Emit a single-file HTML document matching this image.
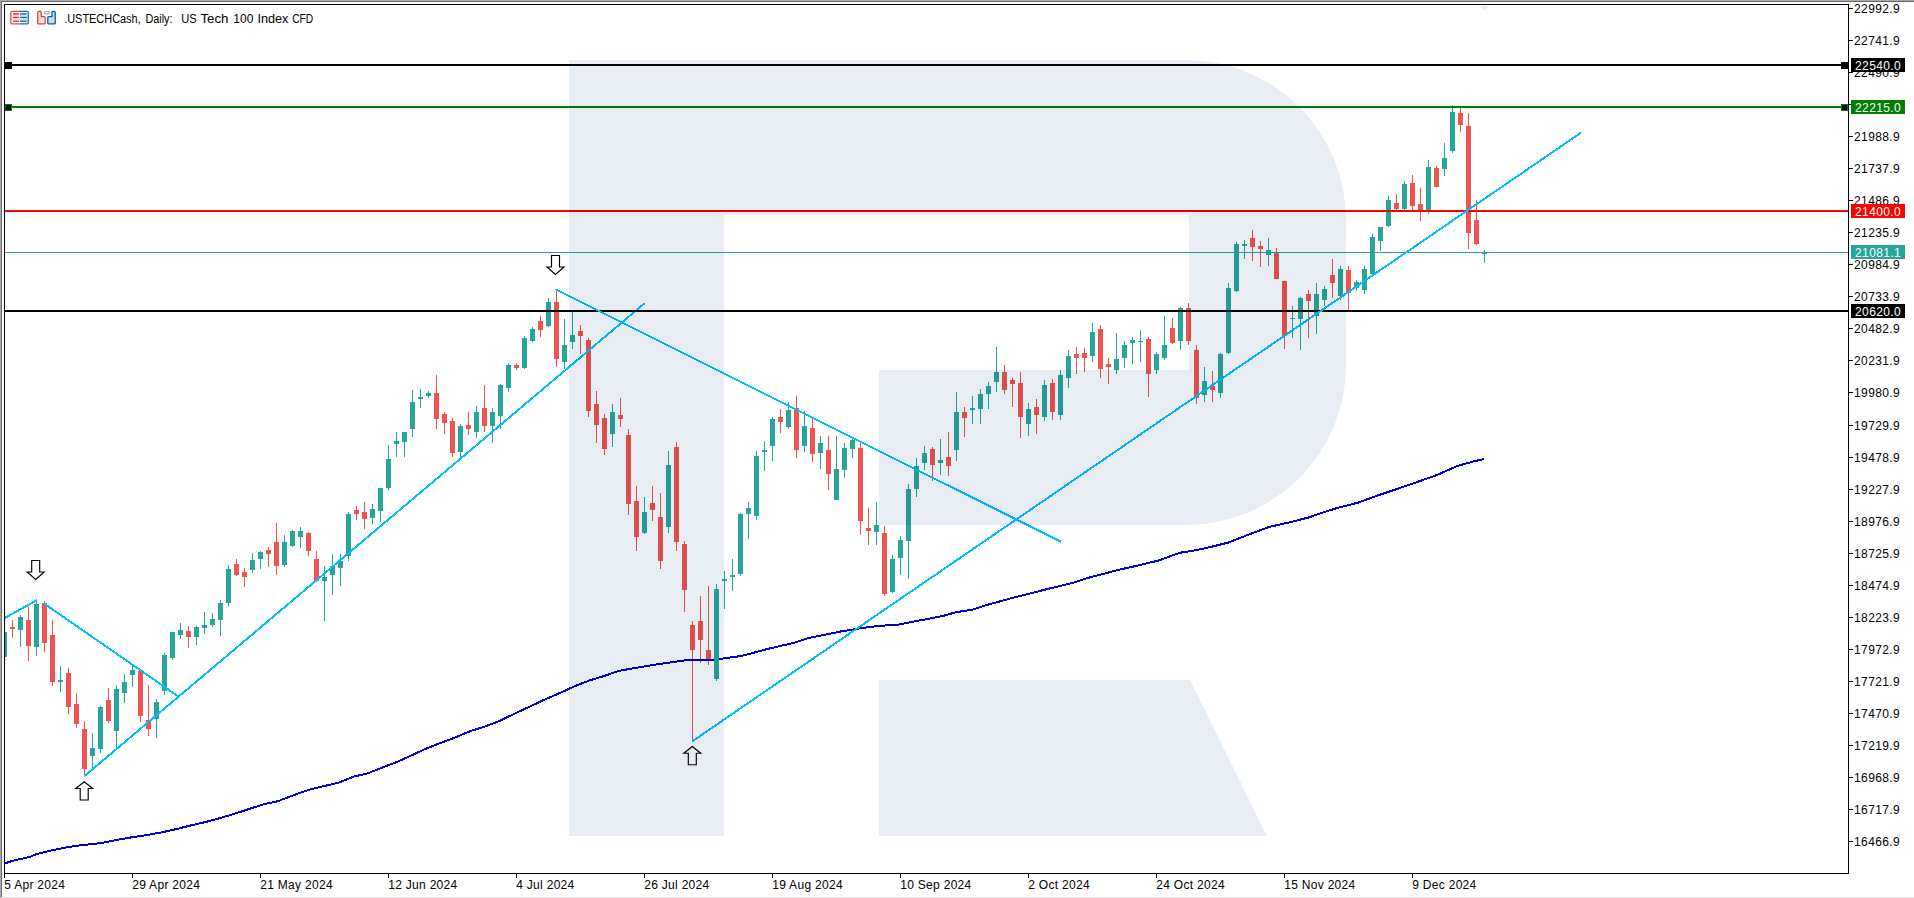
<!DOCTYPE html>
<html><head><meta charset="utf-8"><style>
html,body{margin:0;padding:0;background:#fff;width:1914px;height:898px;overflow:hidden;position:relative}
.pl{position:absolute;left:1854px;height:14px;line-height:14px;font-size:12px;letter-spacing:0.4px;color:#000;font-family:"Liberation Sans",sans-serif;white-space:nowrap}
.pb{position:absolute;left:1851px;width:54px;height:14px;line-height:14px;font-size:12px;letter-spacing:0.4px;color:#fff;font-family:"Liberation Sans",sans-serif;white-space:nowrap}
.pb span{position:absolute;left:4px;top:1px}
.dl{position:absolute;top:878px;height:14px;line-height:14px;font-size:12px;letter-spacing:0.3px;color:#000;font-family:"Liberation Sans",sans-serif;white-space:nowrap}
.hd{position:absolute;left:64px;top:11px;height:14px;line-height:14px;font-size:12px;color:#000;font-family:"Liberation Sans",sans-serif;white-space:nowrap}
</style></head><body>
<svg width="1914" height="898" viewBox="0 0 1914 898" style="position:absolute;left:0;top:0"><rect x="0" y="0" width="1914" height="898" fill="#fff"/><g shape-rendering="crispEdges"><rect x="0" y="0" width="1914" height="1" fill="#a9a9a9"/><rect x="1" y="1" width="1913" height="1" fill="#696969"/><rect x="0" y="0" width="1" height="898" fill="#a9a9a9"/><rect x="1" y="1" width="1" height="896" fill="#696969"/><rect x="1" y="897" width="1913" height="1" fill="#e0e0e0"/></g><defs><clipPath id="cl"><rect x="5" y="5" width="1843" height="868"/></clipPath></defs><g clip-path="url(#cl)"><g shape-rendering="crispEdges"><rect x="4" y="628" width="1" height="32" fill="#26a69a"/><rect x="2" y="632" width="5" height="25" fill="#26a69a"/><rect x="12" y="620" width="1" height="18" fill="#ef5350"/><rect x="10" y="627" width="5" height="2" fill="#ef5350"/><rect x="20" y="615" width="1" height="32" fill="#26a69a"/><rect x="18" y="617" width="5" height="13" fill="#26a69a"/><rect x="28" y="607" width="1" height="54" fill="#ef5350"/><rect x="26" y="620" width="5" height="26" fill="#ef5350"/><rect x="36" y="600" width="1" height="56" fill="#26a69a"/><rect x="34" y="604" width="5" height="43" fill="#26a69a"/><rect x="44" y="601" width="1" height="51" fill="#ef5350"/><rect x="42" y="603" width="5" height="40" fill="#ef5350"/><rect x="52" y="620" width="1" height="66" fill="#ef5350"/><rect x="50" y="635" width="5" height="47" fill="#ef5350"/><rect x="60" y="666" width="1" height="26" fill="#26a69a"/><rect x="58" y="680" width="5" height="2" fill="#26a69a"/><rect x="68" y="668" width="1" height="46" fill="#ef5350"/><rect x="66" y="673" width="5" height="34" fill="#ef5350"/><rect x="76" y="693" width="1" height="35" fill="#ef5350"/><rect x="74" y="704" width="5" height="20" fill="#ef5350"/><rect x="84" y="721" width="1" height="55" fill="#ef5350"/><rect x="82" y="729" width="5" height="40" fill="#ef5350"/><rect x="92" y="733" width="1" height="35" fill="#26a69a"/><rect x="90" y="748" width="5" height="8" fill="#26a69a"/><rect x="100" y="706" width="1" height="47" fill="#26a69a"/><rect x="98" y="707" width="5" height="42" fill="#26a69a"/><rect x="108" y="688" width="1" height="35" fill="#ef5350"/><rect x="106" y="700" width="5" height="21" fill="#ef5350"/><rect x="116" y="685" width="1" height="63" fill="#26a69a"/><rect x="114" y="689" width="5" height="42" fill="#26a69a"/><rect x="124" y="674" width="1" height="29" fill="#26a69a"/><rect x="122" y="682" width="5" height="11" fill="#26a69a"/><rect x="132" y="665" width="1" height="22" fill="#26a69a"/><rect x="130" y="670" width="5" height="5" fill="#26a69a"/><rect x="140" y="671" width="1" height="51" fill="#ef5350"/><rect x="138" y="671" width="5" height="45" fill="#ef5350"/><rect x="148" y="685" width="1" height="51" fill="#ef5350"/><rect x="146" y="720" width="5" height="9" fill="#ef5350"/><rect x="156" y="699" width="1" height="39" fill="#26a69a"/><rect x="154" y="702" width="5" height="17" fill="#26a69a"/><rect x="164" y="653" width="1" height="42" fill="#26a69a"/><rect x="162" y="655" width="5" height="36" fill="#26a69a"/><rect x="172" y="632" width="1" height="28" fill="#26a69a"/><rect x="170" y="632" width="5" height="26" fill="#26a69a"/><rect x="180" y="623" width="1" height="16" fill="#26a69a"/><rect x="178" y="630" width="5" height="5" fill="#26a69a"/><rect x="188" y="626" width="1" height="22" fill="#ef5350"/><rect x="186" y="631" width="5" height="6" fill="#ef5350"/><rect x="196" y="626" width="1" height="19" fill="#26a69a"/><rect x="194" y="627" width="5" height="10" fill="#26a69a"/><rect x="204" y="612" width="1" height="22" fill="#26a69a"/><rect x="202" y="625" width="5" height="3" fill="#26a69a"/><rect x="212" y="613" width="1" height="14" fill="#26a69a"/><rect x="210" y="619" width="5" height="6" fill="#26a69a"/><rect x="220" y="600" width="1" height="36" fill="#26a69a"/><rect x="218" y="603" width="5" height="17" fill="#26a69a"/><rect x="228" y="565" width="1" height="41" fill="#26a69a"/><rect x="226" y="569" width="5" height="34" fill="#26a69a"/><rect x="236" y="559" width="1" height="17" fill="#ef5350"/><rect x="234" y="564" width="5" height="11" fill="#ef5350"/><rect x="244" y="568" width="1" height="19" fill="#ef5350"/><rect x="242" y="572" width="5" height="5" fill="#ef5350"/><rect x="252" y="553" width="1" height="20" fill="#26a69a"/><rect x="250" y="560" width="5" height="10" fill="#26a69a"/><rect x="260" y="551" width="1" height="18" fill="#26a69a"/><rect x="258" y="552" width="5" height="7" fill="#26a69a"/><rect x="268" y="547" width="1" height="20" fill="#ef5350"/><rect x="266" y="550" width="5" height="4" fill="#ef5350"/><rect x="276" y="523" width="1" height="52" fill="#ef5350"/><rect x="274" y="542" width="5" height="24" fill="#ef5350"/><rect x="284" y="535" width="1" height="32" fill="#26a69a"/><rect x="282" y="542" width="5" height="23" fill="#26a69a"/><rect x="292" y="530" width="1" height="17" fill="#26a69a"/><rect x="290" y="531" width="5" height="15" fill="#26a69a"/><rect x="300" y="527" width="1" height="21" fill="#26a69a"/><rect x="298" y="531" width="5" height="6" fill="#26a69a"/><rect x="308" y="532" width="1" height="24" fill="#ef5350"/><rect x="306" y="533" width="5" height="18" fill="#ef5350"/><rect x="316" y="551" width="1" height="31" fill="#ef5350"/><rect x="314" y="559" width="5" height="22" fill="#ef5350"/><rect x="324" y="566" width="1" height="55" fill="#26a69a"/><rect x="322" y="577" width="5" height="4" fill="#26a69a"/><rect x="332" y="554" width="1" height="41" fill="#26a69a"/><rect x="330" y="566" width="5" height="9" fill="#26a69a"/><rect x="340" y="554" width="1" height="32" fill="#26a69a"/><rect x="338" y="561" width="5" height="7" fill="#26a69a"/><rect x="348" y="512" width="1" height="49" fill="#26a69a"/><rect x="346" y="514" width="5" height="42" fill="#26a69a"/><rect x="356" y="506" width="1" height="14" fill="#ef5350"/><rect x="354" y="510" width="5" height="4" fill="#ef5350"/><rect x="364" y="502" width="1" height="27" fill="#ef5350"/><rect x="362" y="512" width="5" height="7" fill="#ef5350"/><rect x="372" y="504" width="1" height="20" fill="#26a69a"/><rect x="370" y="509" width="5" height="9" fill="#26a69a"/><rect x="380" y="488" width="1" height="34" fill="#26a69a"/><rect x="378" y="488" width="5" height="23" fill="#26a69a"/><rect x="388" y="445" width="1" height="45" fill="#26a69a"/><rect x="386" y="459" width="5" height="29" fill="#26a69a"/><rect x="396" y="432" width="1" height="25" fill="#26a69a"/><rect x="394" y="441" width="5" height="3" fill="#26a69a"/><rect x="404" y="432" width="1" height="25" fill="#26a69a"/><rect x="402" y="432" width="5" height="10" fill="#26a69a"/><rect x="412" y="390" width="1" height="47" fill="#26a69a"/><rect x="410" y="402" width="5" height="27" fill="#26a69a"/><rect x="420" y="389" width="1" height="19" fill="#26a69a"/><rect x="418" y="397" width="5" height="2" fill="#26a69a"/><rect x="428" y="391" width="1" height="7" fill="#26a69a"/><rect x="426" y="393" width="5" height="3" fill="#26a69a"/><rect x="436" y="375" width="1" height="54" fill="#ef5350"/><rect x="434" y="393" width="5" height="26" fill="#ef5350"/><rect x="444" y="412" width="1" height="22" fill="#ef5350"/><rect x="442" y="414" width="5" height="9" fill="#ef5350"/><rect x="452" y="418" width="1" height="39" fill="#ef5350"/><rect x="450" y="421" width="5" height="32" fill="#ef5350"/><rect x="460" y="424" width="1" height="34" fill="#26a69a"/><rect x="458" y="426" width="5" height="26" fill="#26a69a"/><rect x="468" y="412" width="1" height="23" fill="#ef5350"/><rect x="466" y="425" width="5" height="4" fill="#ef5350"/><rect x="476" y="406" width="1" height="32" fill="#26a69a"/><rect x="474" y="412" width="5" height="20" fill="#26a69a"/><rect x="484" y="385" width="1" height="47" fill="#ef5350"/><rect x="482" y="408" width="5" height="18" fill="#ef5350"/><rect x="492" y="408" width="1" height="35" fill="#26a69a"/><rect x="490" y="412" width="5" height="14" fill="#26a69a"/><rect x="500" y="384" width="1" height="45" fill="#26a69a"/><rect x="498" y="385" width="5" height="31" fill="#26a69a"/><rect x="508" y="363" width="1" height="29" fill="#26a69a"/><rect x="506" y="365" width="5" height="23" fill="#26a69a"/><rect x="516" y="363" width="1" height="7" fill="#ef5350"/><rect x="514" y="365" width="5" height="3" fill="#ef5350"/><rect x="524" y="336" width="1" height="33" fill="#26a69a"/><rect x="522" y="338" width="5" height="30" fill="#26a69a"/><rect x="532" y="327" width="1" height="15" fill="#26a69a"/><rect x="530" y="329" width="5" height="12" fill="#26a69a"/><rect x="540" y="316" width="1" height="21" fill="#ef5350"/><rect x="538" y="321" width="5" height="9" fill="#ef5350"/><rect x="548" y="298" width="1" height="29" fill="#26a69a"/><rect x="546" y="302" width="5" height="24" fill="#26a69a"/><rect x="556" y="290" width="1" height="77" fill="#ef5350"/><rect x="554" y="302" width="5" height="57" fill="#ef5350"/><rect x="564" y="319" width="1" height="50" fill="#26a69a"/><rect x="562" y="345" width="5" height="17" fill="#26a69a"/><rect x="572" y="311" width="1" height="38" fill="#26a69a"/><rect x="570" y="335" width="5" height="7" fill="#26a69a"/><rect x="580" y="325" width="1" height="29" fill="#ef5350"/><rect x="578" y="331" width="5" height="5" fill="#ef5350"/><rect x="588" y="338" width="1" height="79" fill="#ef5350"/><rect x="586" y="340" width="5" height="71" fill="#ef5350"/><rect x="596" y="391" width="1" height="52" fill="#ef5350"/><rect x="594" y="404" width="5" height="21" fill="#ef5350"/><rect x="604" y="414" width="1" height="41" fill="#ef5350"/><rect x="602" y="418" width="5" height="31" fill="#ef5350"/><rect x="612" y="404" width="1" height="43" fill="#26a69a"/><rect x="610" y="412" width="5" height="22" fill="#26a69a"/><rect x="620" y="398" width="1" height="29" fill="#ef5350"/><rect x="618" y="415" width="5" height="4" fill="#ef5350"/><rect x="628" y="429" width="1" height="86" fill="#ef5350"/><rect x="626" y="435" width="5" height="69" fill="#ef5350"/><rect x="636" y="486" width="1" height="65" fill="#ef5350"/><rect x="634" y="501" width="5" height="36" fill="#ef5350"/><rect x="644" y="497" width="1" height="37" fill="#26a69a"/><rect x="642" y="512" width="5" height="21" fill="#26a69a"/><rect x="652" y="486" width="1" height="35" fill="#ef5350"/><rect x="650" y="503" width="5" height="7" fill="#ef5350"/><rect x="660" y="493" width="1" height="76" fill="#ef5350"/><rect x="658" y="517" width="5" height="44" fill="#ef5350"/><rect x="668" y="451" width="1" height="82" fill="#26a69a"/><rect x="666" y="465" width="5" height="62" fill="#26a69a"/><rect x="676" y="442" width="1" height="109" fill="#ef5350"/><rect x="674" y="447" width="5" height="95" fill="#ef5350"/><rect x="684" y="541" width="1" height="71" fill="#ef5350"/><rect x="682" y="544" width="5" height="46" fill="#ef5350"/><rect x="692" y="621" width="1" height="120" fill="#ef5350"/><rect x="690" y="625" width="5" height="25" fill="#ef5350"/><rect x="700" y="596" width="1" height="67" fill="#ef5350"/><rect x="698" y="621" width="5" height="19" fill="#ef5350"/><rect x="708" y="586" width="1" height="79" fill="#ef5350"/><rect x="706" y="650" width="5" height="10" fill="#ef5350"/><rect x="724" y="571" width="1" height="38" fill="#26a69a"/><rect x="722" y="579" width="5" height="2" fill="#26a69a"/><rect x="732" y="559" width="1" height="32" fill="#26a69a"/><rect x="730" y="575" width="5" height="2" fill="#26a69a"/><rect x="740" y="513" width="1" height="63" fill="#26a69a"/><rect x="738" y="514" width="5" height="60" fill="#26a69a"/><rect x="748" y="502" width="1" height="37" fill="#26a69a"/><rect x="746" y="508" width="5" height="6" fill="#26a69a"/><rect x="756" y="451" width="1" height="69" fill="#26a69a"/><rect x="754" y="456" width="5" height="60" fill="#26a69a"/><rect x="764" y="441" width="1" height="30" fill="#26a69a"/><rect x="762" y="450" width="5" height="2" fill="#26a69a"/><rect x="772" y="417" width="1" height="44" fill="#26a69a"/><rect x="770" y="419" width="5" height="27" fill="#26a69a"/><rect x="780" y="409" width="1" height="24" fill="#ef5350"/><rect x="778" y="417" width="5" height="5" fill="#ef5350"/><rect x="788" y="402" width="1" height="27" fill="#26a69a"/><rect x="786" y="410" width="5" height="17" fill="#26a69a"/><rect x="796" y="396" width="1" height="62" fill="#ef5350"/><rect x="794" y="408" width="5" height="42" fill="#ef5350"/><rect x="804" y="411" width="1" height="41" fill="#26a69a"/><rect x="802" y="426" width="5" height="20" fill="#26a69a"/><rect x="812" y="419" width="1" height="43" fill="#ef5350"/><rect x="810" y="428" width="5" height="26" fill="#ef5350"/><rect x="820" y="436" width="1" height="33" fill="#26a69a"/><rect x="818" y="443" width="5" height="10" fill="#26a69a"/><rect x="828" y="436" width="1" height="54" fill="#ef5350"/><rect x="826" y="450" width="5" height="24" fill="#ef5350"/><rect x="836" y="436" width="1" height="64" fill="#26a69a"/><rect x="834" y="469" width="5" height="31" fill="#26a69a"/><rect x="844" y="443" width="1" height="35" fill="#26a69a"/><rect x="842" y="448" width="5" height="22" fill="#26a69a"/><rect x="852" y="437" width="1" height="21" fill="#26a69a"/><rect x="850" y="440" width="5" height="9" fill="#26a69a"/><rect x="860" y="442" width="1" height="93" fill="#ef5350"/><rect x="858" y="448" width="5" height="73" fill="#ef5350"/><rect x="868" y="508" width="1" height="37" fill="#ef5350"/><rect x="866" y="528" width="5" height="3" fill="#ef5350"/><rect x="876" y="502" width="1" height="43" fill="#26a69a"/><rect x="874" y="525" width="5" height="7" fill="#26a69a"/><rect x="884" y="526" width="1" height="70" fill="#ef5350"/><rect x="882" y="533" width="5" height="61" fill="#ef5350"/><rect x="892" y="555" width="1" height="38" fill="#26a69a"/><rect x="890" y="559" width="5" height="33" fill="#26a69a"/><rect x="900" y="536" width="1" height="39" fill="#26a69a"/><rect x="898" y="540" width="5" height="18" fill="#26a69a"/><rect x="908" y="484" width="1" height="95" fill="#26a69a"/><rect x="906" y="489" width="5" height="52" fill="#26a69a"/><rect x="916" y="458" width="1" height="39" fill="#26a69a"/><rect x="914" y="466" width="5" height="23" fill="#26a69a"/><rect x="924" y="446" width="1" height="24" fill="#26a69a"/><rect x="922" y="453" width="5" height="10" fill="#26a69a"/><rect x="932" y="447" width="1" height="34" fill="#ef5350"/><rect x="930" y="449" width="5" height="16" fill="#ef5350"/><rect x="940" y="439" width="1" height="36" fill="#26a69a"/><rect x="938" y="460" width="5" height="3" fill="#26a69a"/><rect x="948" y="432" width="1" height="44" fill="#ef5350"/><rect x="946" y="457" width="5" height="9" fill="#ef5350"/><rect x="956" y="392" width="1" height="69" fill="#26a69a"/><rect x="954" y="412" width="5" height="38" fill="#26a69a"/><rect x="964" y="407" width="1" height="30" fill="#ef5350"/><rect x="962" y="412" width="5" height="6" fill="#ef5350"/><rect x="972" y="396" width="1" height="28" fill="#26a69a"/><rect x="970" y="408" width="5" height="2" fill="#26a69a"/><rect x="980" y="389" width="1" height="35" fill="#26a69a"/><rect x="978" y="394" width="5" height="15" fill="#26a69a"/><rect x="988" y="382" width="1" height="27" fill="#26a69a"/><rect x="986" y="386" width="5" height="8" fill="#26a69a"/><rect x="996" y="347" width="1" height="45" fill="#26a69a"/><rect x="994" y="372" width="5" height="10" fill="#26a69a"/><rect x="1004" y="365" width="1" height="29" fill="#ef5350"/><rect x="1002" y="372" width="5" height="18" fill="#ef5350"/><rect x="1012" y="378" width="1" height="29" fill="#ef5350"/><rect x="1010" y="380" width="5" height="4" fill="#ef5350"/><rect x="1020" y="372" width="1" height="66" fill="#ef5350"/><rect x="1018" y="383" width="5" height="34" fill="#ef5350"/><rect x="1028" y="403" width="1" height="33" fill="#26a69a"/><rect x="1026" y="409" width="5" height="15" fill="#26a69a"/><rect x="1036" y="399" width="1" height="35" fill="#ef5350"/><rect x="1034" y="407" width="5" height="8" fill="#ef5350"/><rect x="1044" y="380" width="1" height="41" fill="#26a69a"/><rect x="1042" y="385" width="5" height="32" fill="#26a69a"/><rect x="1052" y="379" width="1" height="41" fill="#ef5350"/><rect x="1050" y="383" width="5" height="29" fill="#ef5350"/><rect x="1060" y="370" width="1" height="50" fill="#26a69a"/><rect x="1058" y="375" width="5" height="40" fill="#26a69a"/><rect x="1068" y="350" width="1" height="38" fill="#26a69a"/><rect x="1066" y="356" width="5" height="22" fill="#26a69a"/><rect x="1076" y="347" width="1" height="27" fill="#ef5350"/><rect x="1074" y="354" width="5" height="4" fill="#ef5350"/><rect x="1084" y="348" width="1" height="24" fill="#ef5350"/><rect x="1082" y="353" width="5" height="5" fill="#ef5350"/><rect x="1092" y="323" width="1" height="39" fill="#26a69a"/><rect x="1090" y="332" width="5" height="24" fill="#26a69a"/><rect x="1100" y="325" width="1" height="53" fill="#ef5350"/><rect x="1098" y="329" width="5" height="40" fill="#ef5350"/><rect x="1108" y="358" width="1" height="26" fill="#ef5350"/><rect x="1106" y="364" width="5" height="3" fill="#ef5350"/><rect x="1116" y="333" width="1" height="41" fill="#26a69a"/><rect x="1114" y="359" width="5" height="11" fill="#26a69a"/><rect x="1124" y="341" width="1" height="27" fill="#26a69a"/><rect x="1122" y="345" width="5" height="13" fill="#26a69a"/><rect x="1132" y="337" width="1" height="27" fill="#26a69a"/><rect x="1130" y="340" width="5" height="3" fill="#26a69a"/><rect x="1140" y="330" width="1" height="32" fill="#26a69a"/><rect x="1138" y="341" width="5" height="1" fill="#26a69a"/><rect x="1148" y="337" width="1" height="60" fill="#ef5350"/><rect x="1146" y="339" width="5" height="35" fill="#ef5350"/><rect x="1156" y="352" width="1" height="22" fill="#26a69a"/><rect x="1154" y="354" width="5" height="16" fill="#26a69a"/><rect x="1164" y="316" width="1" height="44" fill="#26a69a"/><rect x="1162" y="345" width="5" height="13" fill="#26a69a"/><rect x="1172" y="318" width="1" height="26" fill="#ef5350"/><rect x="1170" y="328" width="5" height="15" fill="#ef5350"/><rect x="1180" y="307" width="1" height="43" fill="#26a69a"/><rect x="1178" y="308" width="5" height="33" fill="#26a69a"/><rect x="1188" y="303" width="1" height="42" fill="#ef5350"/><rect x="1186" y="308" width="5" height="33" fill="#ef5350"/><rect x="1196" y="345" width="1" height="59" fill="#ef5350"/><rect x="1194" y="350" width="5" height="48" fill="#ef5350"/><rect x="1204" y="367" width="1" height="35" fill="#26a69a"/><rect x="1202" y="381" width="5" height="14" fill="#26a69a"/><rect x="1212" y="371" width="1" height="31" fill="#ef5350"/><rect x="1210" y="386" width="5" height="4" fill="#ef5350"/><rect x="1220" y="353" width="1" height="45" fill="#26a69a"/><rect x="1218" y="354" width="5" height="39" fill="#26a69a"/><rect x="1228" y="283" width="1" height="71" fill="#26a69a"/><rect x="1226" y="288" width="5" height="65" fill="#26a69a"/><rect x="1236" y="242" width="1" height="50" fill="#26a69a"/><rect x="1234" y="244" width="5" height="47" fill="#26a69a"/><rect x="1244" y="240" width="1" height="19" fill="#26a69a"/><rect x="1242" y="244" width="5" height="2" fill="#26a69a"/><rect x="1252" y="230" width="1" height="31" fill="#ef5350"/><rect x="1250" y="238" width="5" height="9" fill="#ef5350"/><rect x="1260" y="241" width="1" height="26" fill="#ef5350"/><rect x="1258" y="246" width="5" height="3" fill="#ef5350"/><rect x="1268" y="238" width="1" height="28" fill="#26a69a"/><rect x="1266" y="250" width="5" height="5" fill="#26a69a"/><rect x="1276" y="248" width="1" height="31" fill="#ef5350"/><rect x="1274" y="253" width="5" height="26" fill="#ef5350"/><rect x="1284" y="281" width="1" height="68" fill="#ef5350"/><rect x="1282" y="281" width="5" height="55" fill="#ef5350"/><rect x="1292" y="306" width="1" height="32" fill="#26a69a"/><rect x="1290" y="318" width="5" height="1" fill="#26a69a"/><rect x="1300" y="297" width="1" height="53" fill="#26a69a"/><rect x="1298" y="298" width="5" height="21" fill="#26a69a"/><rect x="1308" y="290" width="1" height="48" fill="#ef5350"/><rect x="1306" y="294" width="5" height="7" fill="#ef5350"/><rect x="1316" y="283" width="1" height="51" fill="#26a69a"/><rect x="1314" y="294" width="5" height="22" fill="#26a69a"/><rect x="1324" y="286" width="1" height="20" fill="#26a69a"/><rect x="1322" y="289" width="5" height="11" fill="#26a69a"/><rect x="1332" y="259" width="1" height="39" fill="#ef5350"/><rect x="1330" y="275" width="5" height="8" fill="#ef5350"/><rect x="1340" y="266" width="1" height="34" fill="#26a69a"/><rect x="1338" y="269" width="5" height="27" fill="#26a69a"/><rect x="1348" y="266" width="1" height="44" fill="#ef5350"/><rect x="1346" y="270" width="5" height="23" fill="#ef5350"/><rect x="1356" y="280" width="1" height="11" fill="#26a69a"/><rect x="1354" y="282" width="5" height="6" fill="#26a69a"/><rect x="1364" y="266" width="1" height="28" fill="#26a69a"/><rect x="1362" y="269" width="5" height="21" fill="#26a69a"/><rect x="1372" y="234" width="1" height="40" fill="#26a69a"/><rect x="1370" y="237" width="5" height="37" fill="#26a69a"/><rect x="1380" y="227" width="1" height="24" fill="#26a69a"/><rect x="1378" y="227" width="5" height="14" fill="#26a69a"/><rect x="1388" y="196" width="1" height="31" fill="#26a69a"/><rect x="1386" y="200" width="5" height="26" fill="#26a69a"/><rect x="1396" y="194" width="1" height="16" fill="#ef5350"/><rect x="1394" y="203" width="5" height="6" fill="#ef5350"/><rect x="1404" y="181" width="1" height="29" fill="#26a69a"/><rect x="1402" y="184" width="5" height="25" fill="#26a69a"/><rect x="1412" y="175" width="1" height="35" fill="#ef5350"/><rect x="1410" y="183" width="5" height="23" fill="#ef5350"/><rect x="1420" y="188" width="1" height="33" fill="#ef5350"/><rect x="1418" y="204" width="5" height="6" fill="#ef5350"/><rect x="1428" y="160" width="1" height="54" fill="#26a69a"/><rect x="1426" y="167" width="5" height="43" fill="#26a69a"/><rect x="1436" y="166" width="1" height="21" fill="#ef5350"/><rect x="1434" y="168" width="5" height="19" fill="#ef5350"/><rect x="1444" y="143" width="1" height="33" fill="#26a69a"/><rect x="1442" y="158" width="5" height="11" fill="#26a69a"/><rect x="1452" y="105" width="1" height="48" fill="#26a69a"/><rect x="1450" y="112" width="5" height="39" fill="#26a69a"/><rect x="1460" y="108" width="1" height="24" fill="#ef5350"/><rect x="1458" y="113" width="5" height="12" fill="#ef5350"/><rect x="1468" y="113" width="1" height="136" fill="#ef5350"/><rect x="1466" y="126" width="5" height="107" fill="#ef5350"/><rect x="1476" y="200" width="1" height="45" fill="#ef5350"/><rect x="1474" y="220" width="5" height="24" fill="#ef5350"/><rect x="1484" y="250" width="1" height="13" fill="#26a69a"/><rect x="1482" y="252" width="5" height="2" fill="#26a69a"/></g><g shape-rendering="crispEdges"><rect x="4" y="64" width="1844" height="2" fill="#000"/><rect x="4" y="106" width="1844" height="2" fill="#008000"/><rect x="4" y="210" width="1844" height="2" fill="#ff0000"/><rect x="4" y="252" width="1844" height="1" fill="#26a69a"/></g><polyline fill="none" stroke="#0000cd" stroke-width="2" shape-rendering="crispEdges" stroke-linejoin="round" points="5.1,863.2 14.6,860.3 29.3,857.1 36.6,854.1 51.2,850.5 65.8,847.5 80.5,845.3 102.4,842.9 117,839.8 131.7,837.3 146.3,835.1 160.9,832.5 175.5,829.3 190.2,825.6 204.8,822.2 219.4,818.3 234.1,813.9 248.7,809.1 263.3,804.4 277.9,801.2 294.6,794.8 309.3,789.7 323.9,786.1 338.5,782.8 353.1,776.8 367.8,773.3 382.4,767.5 397,761.9 411.7,755.3 426.3,748.5 440.9,742.9 455.5,737.3 470.2,731.2 484.8,726.5 499.4,721 514.1,713.9 528.7,707.1 543.3,700.2 559.4,693.2 574.6,686.3 589.3,680.5 603.9,676.1 618.5,671 633.1,668.3 647.8,665.8 662.4,663.6 677,661.5 687.3,660 706.3,660 716.5,660 725.3,658.1 741.4,656 750.2,653.7 764.8,649.7 779.4,646.1 794,642.9 808.7,638 823.3,635.1 840,631.6 854.6,629.2 869.3,627 883.9,625.6 898.5,624.6 913.1,621.6 927.8,619 942.4,616.1 957,612 971.7,609.9 986.3,605.1 1000.9,601.1 1015.5,597.1 1030.2,593.4 1044.8,589.7 1059.4,586.1 1074.1,582.4 1088.7,577.7 1103.3,573.9 1120,569.5 1139.9,565.1 1159.7,560.2 1179.6,552.8 1195.4,550.3 1209.3,547.3 1229.2,542.3 1249,534.4 1268.9,527 1288.8,522.5 1308.6,517.5 1318.5,513.9 1338.4,507.6 1358.2,502.6 1378.1,495.3 1397.9,488.7 1417.8,481.8 1437.6,474.8 1457.5,465.9 1473.4,461.5 1484.3,458.9"/><g shape-rendering="crispEdges"><rect x="716" y="584" width="1" height="97" fill="#26a69a"/><rect x="714" y="589" width="5" height="90" fill="#26a69a"/></g><line x1="-10" y1="626.2" x2="36.3" y2="600.5" stroke="#00bfff" stroke-width="2" stroke-linecap="round" shape-rendering="crispEdges"/><line x1="44.3" y1="603.7" x2="178.7" y2="696.7" stroke="#00bfff" stroke-width="2" stroke-linecap="round" shape-rendering="crispEdges"/><line x1="84.5" y1="776" x2="644.1" y2="303.7" stroke="#00bfff" stroke-width="2" stroke-linecap="round" shape-rendering="crispEdges"/><rect x="4" y="310" width="1844" height="2" fill="#000" shape-rendering="crispEdges"/><line x1="556.4" y1="289.8" x2="1060.4" y2="541.5" stroke="#00bfff" stroke-width="2" stroke-linecap="round" shape-rendering="crispEdges"/><line x1="692.6" y1="741.1" x2="1580.5" y2="133" stroke="#00bfff" stroke-width="2" stroke-linecap="round" shape-rendering="crispEdges"/><polygon fill="#fff" stroke="#000" stroke-width="1.15" points="31.700000000000003,560.5 39.7,560.5 39.7,572.0 44.2,572.0 35.7,579.5 27.200000000000003,572.0 31.700000000000003,572.0"/><polygon fill="#fff" stroke="#000" stroke-width="1.15" points="551.5,255.5 559.5,255.5 559.5,267.0 564.0,267.0 555.5,274.5 547.0,267.0 551.5,267.0"/><polygon fill="#fff" stroke="#000" stroke-width="1.15" points="84.2,781.8 92.7,788.5 88.2,788.5 88.2,800 80.2,800 80.2,788.5 75.7,788.5"/><polygon fill="#fff" stroke="#000" stroke-width="1.15" points="692.3,746.5 700.8,753.2 696.3,753.2 696.3,764.7 688.3,764.7 688.3,753.2 683.8,753.2"/><g shape-rendering="crispEdges"><rect x="4" y="62" width="8" height="7" fill="#000"/><rect x="1841" y="62" width="7" height="7" fill="#000"/><rect x="5.5" y="104.5" width="6" height="6" fill="#000" stroke="#008000" stroke-width="1"/><rect x="1841.5" y="104.5" width="6" height="6" fill="#000" stroke="#008000" stroke-width="1"/></g><g style="mix-blend-mode:multiply"><path fill="#e8ecf3" d="M569,60 H1186 A160,160 0 0 1 1346,220 V365 A160,160 0 0 1 1186,525 H879 V370 H1189 V215 H724 V836 H569 Z"/><path fill="#e8ecf3" d="M879,680 H1190 L1267,836 H879 Z"/></g></g><g shape-rendering="crispEdges"><rect x="4" y="4" width="1845" height="1" fill="#000"/><rect x="4" y="4" width="1" height="870" fill="#000"/><rect x="4" y="873" width="1845" height="1" fill="#000"/><rect x="1848" y="4" width="1" height="870" fill="#000"/><rect x="1849" y="8" width="4" height="1" fill="#000"/><rect x="1849" y="40" width="4" height="1" fill="#000"/><rect x="1849" y="72" width="4" height="1" fill="#000"/><rect x="1849" y="104" width="4" height="1" fill="#000"/><rect x="1849" y="136" width="4" height="1" fill="#000"/><rect x="1849" y="168" width="4" height="1" fill="#000"/><rect x="1849" y="200" width="4" height="1" fill="#000"/><rect x="1849" y="232" width="4" height="1" fill="#000"/><rect x="1849" y="264" width="4" height="1" fill="#000"/><rect x="1849" y="296" width="4" height="1" fill="#000"/><rect x="1849" y="328" width="4" height="1" fill="#000"/><rect x="1849" y="360" width="4" height="1" fill="#000"/><rect x="1849" y="392" width="4" height="1" fill="#000"/><rect x="1849" y="425" width="4" height="1" fill="#000"/><rect x="1849" y="457" width="4" height="1" fill="#000"/><rect x="1849" y="489" width="4" height="1" fill="#000"/><rect x="1849" y="521" width="4" height="1" fill="#000"/><rect x="1849" y="553" width="4" height="1" fill="#000"/><rect x="1849" y="585" width="4" height="1" fill="#000"/><rect x="1849" y="617" width="4" height="1" fill="#000"/><rect x="1849" y="649" width="4" height="1" fill="#000"/><rect x="1849" y="681" width="4" height="1" fill="#000"/><rect x="1849" y="713" width="4" height="1" fill="#000"/><rect x="1849" y="745" width="4" height="1" fill="#000"/><rect x="1849" y="777" width="4" height="1" fill="#000"/><rect x="1849" y="809" width="4" height="1" fill="#000"/><rect x="1849" y="841" width="4" height="1" fill="#000"/><rect x="4" y="874" width="1" height="4" fill="#000"/><rect x="132" y="874" width="1" height="4" fill="#000"/><rect x="260" y="874" width="1" height="4" fill="#000"/><rect x="388" y="874" width="1" height="4" fill="#000"/><rect x="516" y="874" width="1" height="4" fill="#000"/><rect x="644" y="874" width="1" height="4" fill="#000"/><rect x="772" y="874" width="1" height="4" fill="#000"/><rect x="900" y="874" width="1" height="4" fill="#000"/><rect x="1028" y="874" width="1" height="4" fill="#000"/><rect x="1156" y="874" width="1" height="4" fill="#000"/><rect x="1284" y="874" width="1" height="4" fill="#000"/><rect x="1412" y="874" width="1" height="4" fill="#000"/></g><polygon fill="#eee9f0" points="1480,6 1489,6 1484.5,11"/></svg>
<div class="pl" style="top:2px">22992.9</div><div class="pl" style="top:34px">22741.9</div><div class="pl" style="top:66px">22490.9</div><div class="pl" style="top:98px">22239.9</div><div class="pl" style="top:130px">21988.9</div><div class="pl" style="top:162px">21737.9</div><div class="pl" style="top:194px">21486.9</div><div class="pl" style="top:226px">21235.9</div><div class="pl" style="top:258px">20984.9</div><div class="pl" style="top:290px">20733.9</div><div class="pl" style="top:322px">20482.9</div><div class="pl" style="top:354px">20231.9</div><div class="pl" style="top:386px">19980.9</div><div class="pl" style="top:419px">19729.9</div><div class="pl" style="top:451px">19478.9</div><div class="pl" style="top:483px">19227.9</div><div class="pl" style="top:515px">18976.9</div><div class="pl" style="top:547px">18725.9</div><div class="pl" style="top:579px">18474.9</div><div class="pl" style="top:611px">18223.9</div><div class="pl" style="top:643px">17972.9</div><div class="pl" style="top:675px">17721.9</div><div class="pl" style="top:707px">17470.9</div><div class="pl" style="top:739px">17219.9</div><div class="pl" style="top:771px">16968.9</div><div class="pl" style="top:803px">16717.9</div><div class="pl" style="top:835px">16466.9</div><div class="pb" style="top:58px;background:#000"><span>22540.0</span></div><div class="pb" style="top:100px;background:#008000"><span>22215.0</span></div><div class="pb" style="top:204px;background:#ff0000"><span>21400.0</span></div><div class="pb" style="top:245px;background:#26a69a"><span>21081.1</span></div><div class="pb" style="top:304px;background:#000"><span>20620.0</span></div><div class="dl" style="left:4.2px">5 Apr 2024</div><div class="dl" style="left:132.2px">29 Apr 2024</div><div class="dl" style="left:260.2px">21 May 2024</div><div class="dl" style="left:388.2px">12 Jun 2024</div><div class="dl" style="left:516.2px">4 Jul 2024</div><div class="dl" style="left:644.2px">26 Jul 2024</div><div class="dl" style="left:772.2px">19 Aug 2024</div><div class="dl" style="left:900.2px">10 Sep 2024</div><div class="dl" style="left:1028.2px">2 Oct 2024</div><div class="dl" style="left:1156.2px">24 Oct 2024</div><div class="dl" style="left:1284.2px">15 Nov 2024</div><div class="dl" style="left:1412.2px">9 Dec 2024</div>
<svg style="position:absolute;left:0;top:0" width="70" height="30">
<rect x="12.5" y="14.5" width="7" height="6.5" fill="#fde0d8"/><rect x="19.5" y="14.5" width="7.5" height="6.5" fill="#c4e4fa"/>
<rect x="12.5" y="18.1" width="7" height="0.8" fill="#fff"/><rect x="19.5" y="18.1" width="7.5" height="0.8" fill="#fff"/>
<path d="M19.5,11.45 H12 q-1.15,0 -1.15,1.15 V22.8 q0,1.15 1.15,1.15 H19.5" fill="none" stroke="#df4a44" stroke-width="1.3"/>
<path d="M19.5,11.45 H27.1 q1.15,0 1.15,1.15 V22.8 q0,1.15 -1.15,1.15 H19.5" fill="none" stroke="#1565b0" stroke-width="1.3"/>
<rect x="13" y="13.1" width="6" height="1.6" fill="#df4a44"/><rect x="13" y="16.9" width="6" height="1.2" fill="#d93030"/><rect x="13" y="20.7" width="6" height="1.2" fill="#d93030"/>
<rect x="20.1" y="13.1" width="6.6" height="1.6" fill="#2a78b8"/><rect x="20.1" y="16.9" width="6.6" height="1.2" fill="#0a5aa8"/><rect x="20.1" y="20.7" width="6.6" height="1.2" fill="#0a5aa8"/>
<path d="M37.75,12.4 q0,-0.95 0.95,-0.95 H40.3 q0.95,0 0.95,0.95 V16.65 H44.2 q0.95,0 0.95,0.95 V22.9 q0,0.95 -0.95,0.95 H38.7 q-0.95,0 -0.95,-0.95 Z" fill="#ffe0d8" stroke="#df4040" stroke-width="1.3"/>
<path d="M55.25,12.4 q0,-0.95 -0.95,-0.95 H52.9 q-0.95,0 -0.95,0.95 V16.65 H48.7 q-0.95,0 -0.95,0.95 V22.9 q0,0.95 0.95,0.95 H54.3 q0.95,0 0.95,-0.95 Z" fill="#bde2fb" stroke="#0d5fa8" stroke-width="1.3"/>
<rect x="44.4" y="11.5" width="4.9" height="2.3" rx="1.1" fill="none" stroke="#a8a8a8" stroke-width="1.2"/>
</svg>
<svg style="position:absolute;left:0;top:0" width="400" height="30"><text x="64.2" y="23" textLength="76.5" lengthAdjust="spacingAndGlyphs" font-family="Liberation Sans" font-size="12.5" fill="#000">.USTECHCash,</text><text x="145.4" y="23" textLength="27.2" lengthAdjust="spacingAndGlyphs" font-family="Liberation Sans" font-size="12.5" fill="#000">Daily:</text><text x="181.2" y="23" textLength="15.4" lengthAdjust="spacingAndGlyphs" font-family="Liberation Sans" font-size="12.5" fill="#000">US</text><text x="200.4" y="23" textLength="28.0" lengthAdjust="spacingAndGlyphs" font-family="Liberation Sans" font-size="12.5" fill="#000">Tech</text><text x="233.3" y="23" textLength="20.0" lengthAdjust="spacingAndGlyphs" font-family="Liberation Sans" font-size="12.5" fill="#000">100</text><text x="257.4" y="23" textLength="31.0" lengthAdjust="spacingAndGlyphs" font-family="Liberation Sans" font-size="12.5" fill="#000">Index</text><text x="292.2" y="23" textLength="21.1" lengthAdjust="spacingAndGlyphs" font-family="Liberation Sans" font-size="12.5" fill="#000">CFD</text></svg>
</body></html>
